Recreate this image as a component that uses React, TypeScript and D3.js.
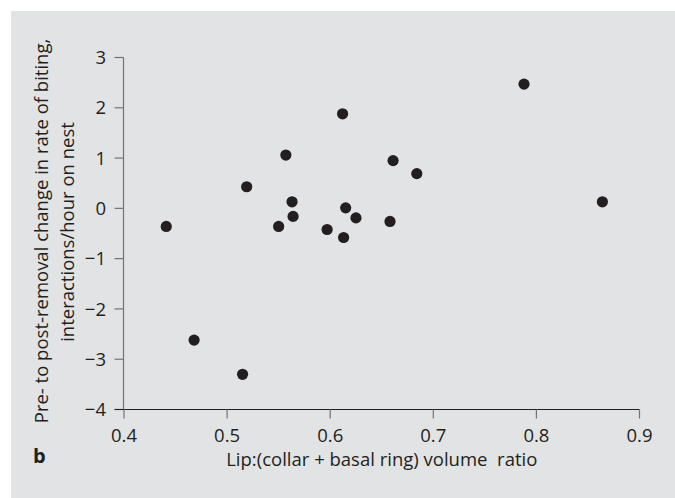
import * as d3 from 'd3';
import React, { useEffect, useRef } from 'react';

// volume ratio (x) and change in biting rate (y)
const ratio = [0.441, 0.468, 0.515, 0.519, 0.550, 0.557, 0.563, 0.564, 0.597, 0.612, 0.613, 0.615, 0.625, 0.658, 0.661, 0.684, 0.788, 0.864];
const change = [-0.36, -2.62, -3.30, 0.43, -0.36, 1.06, 0.13, -0.16, -0.42, 1.88, -0.58, 0.01, -0.19, -0.26, 0.95, 0.69, 2.47, 0.13];

const xTicks = [0.4, 0.5, 0.6, 0.7, 0.8, 0.9];
const yTicks = [3, 2, 1, 0, -1, -2, -3, -4];

const yTitle = ['Pre- to post-removal change in rate of biting,', 'interactions/hour on nest'];
const xTitle = 'Lip:(collar + basal ring) volume  ratio';
const panelLetter = 'b';

const W = 675;
const H = 498;
const ink = '#231f20';
const font = "'Open Sans', sans-serif";
const fs = 18.5;

export default function App() {
    const ref = useRef<SVGSVGElement>(null);

    useEffect(() => {
        const svg = d3.select(ref.current);
        svg.selectAll('*').remove();

        // grey panel behind everything
        svg.append('rect')
            .attr('x', 11).attr('y', 11)
            .attr('width', W - 11).attr('height', H - 11)
            .attr('fill', '#e2e3e4');

        const x = d3.scaleLinear().domain([0.4, 0.9]).range([124, 639.5]);
        const y = d3.scaleLinear().domain([-4, 3]).range([409.5, 57.5]);

        // y axis, grey
        const gy = svg.append('g');
        gy.append('line')
            .attr('x1', 123.5).attr('x2', 123.5)
            .attr('y1', y(3)).attr('y2', y(-4))
            .attr('stroke', '#737375').attr('stroke-width', 1.2);
        gy.selectAll('line.tick')
            .data(yTicks)
            .enter()
            .append('line')
            .attr('class', 'tick')
            .attr('x1', 114.5).attr('x2', 123.5)
            .attr('y1', d => y(d)).attr('y2', d => y(d))
            .attr('stroke', '#737375').attr('stroke-width', 1.2);
        gy.selectAll('text')
            .data(yTicks)
            .enter()
            .append('text')
            .attr('x', 106)
            .attr('y', d => y(d))
            .attr('dy', '0.36em')
            .attr('text-anchor', 'end')
            .attr('font-family', font)
            .attr('font-size', fs)
            .attr('fill', ink)
            .text(d => d3.format('d')(d).replace('-', '\u2212'));

        // x axis, darker line
        const gx = svg.append('g');
        gx.append('line')
            .attr('x1', 114.5).attr('x2', x(0.9))
            .attr('y1', 409.5).attr('y2', 409.5)
            .attr('stroke', ink).attr('stroke-width', 1.2);
        gx.selectAll('line.tick')
            .data(xTicks)
            .enter()
            .append('line')
            .attr('class', 'tick')
            .attr('x1', d => x(d)).attr('x2', d => x(d))
            .attr('y1', 409.5).attr('y2', 418.5)
            .attr('stroke', '#737375').attr('stroke-width', 1.2);
        gx.selectAll('text')
            .data(xTicks)
            .enter()
            .append('text')
            .attr('x', d => x(d))
            .attr('y', 442)
            .attr('text-anchor', 'middle')
            .attr('font-family', font)
            .attr('font-size', fs)
            .attr('fill', ink)
            .text(d => d3.format('.1f')(d));

        // titles
        svg.append('text')
            .attr('x', (x(0.4) + x(0.9)) / 2)
            .attr('y', 465.5)
            .attr('text-anchor', 'middle')
            .attr('font-family', font)
            .attr('font-size', fs)
            .attr('fill', ink)
            .style('white-space', 'pre')
            .text(xTitle);

        const centers = [231, 232];
        const baselines = [48, 73.5];
        yTitle.forEach((t, i) => {
            svg.append('text')
                .attr('transform', `translate(${baselines[i]},${centers[i]}) rotate(-90)`)
                .attr('text-anchor', 'middle')
                .attr('font-family', font)
                .attr('font-size', fs)
                .attr('fill', ink)
                .text(t);
        });

        svg.append('text')
            .attr('x', 33)
            .attr('y', 463)
            .attr('font-family', font)
            .attr('font-weight', 'bold')
            .attr('font-size', 20)
            .attr('fill', ink)
            .text(panelLetter);

        // points
        svg.append('g')
            .selectAll('circle')
            .data(ratio.map((r, i) => [r, change[i]]))
            .enter()
            .append('circle')
            .attr('cx', d => x(d[0]))
            .attr('cy', d => y(d[1]))
            .attr('r', 5.6)
            .attr('fill', ink);
    }, []);

    return (
        <svg ref={ref} width={W} height={H}
            style={{ position: 'absolute', left: 0, top: 0, background: 'white' }} />
    );
}
